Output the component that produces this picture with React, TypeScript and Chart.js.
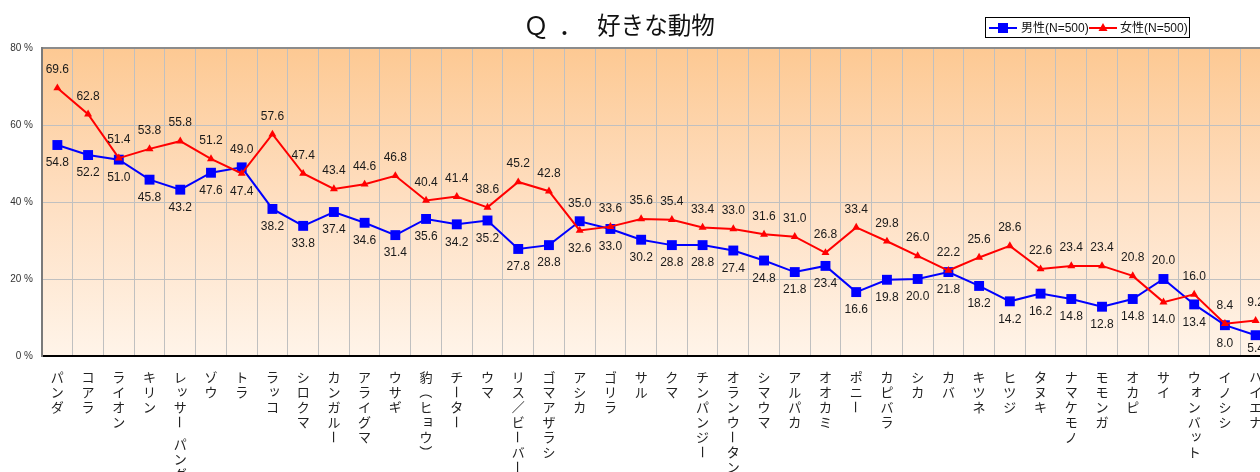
import React, { useEffect, useRef } from 'react';
import { Chart, registerables } from 'chart.js';

Chart.register(...registerables);

const categories = [
  'パンダ', 'コアラ', 'ライオン', 'キリン', 'レッサー パンダ', 'ゾウ', 'トラ', 'ラッコ', 'シロクマ', 'カンガルー',
  'アライグマ', 'ウサギ', '豹（ヒョウ）', 'チーター', 'ウマ', 'リス／ビーバー', 'ゴマアザラシ', 'アシカ', 'ゴリラ', 'サル',
  'クマ', 'チンパンジー', 'オランウータン', 'シマウマ', 'アルパカ', 'オオカミ', 'ポニー', 'カピバラ', 'シカ', 'カバ',
  'キツネ', 'ヒツジ', 'タヌキ', 'ナマケモノ', 'モモンガ', 'オカピ', 'サイ', 'ウォンバット', 'イノシシ', 'ハイエナ',
];

const maleValues = [
  54.8, 52.2, 51.0, 45.8, 43.2, 47.6, 49.0, 38.2, 33.8, 37.4,
  34.6, 31.4, 35.6, 34.2, 35.2, 27.8, 28.8, 35.0, 33.0, 30.2,
  28.8, 28.8, 27.4, 24.8, 21.8, 23.4, 16.6, 19.8, 20.0, 21.8,
  18.2, 14.2, 16.2, 14.8, 12.8, 14.8, 20.0, 13.4, 8.0, 5.4,
];

const femaleValues = [
  69.6, 62.8, 51.4, 53.8, 55.8, 51.2, 47.4, 57.6, 47.4, 43.4,
  44.6, 46.8, 40.4, 41.4, 38.6, 45.2, 42.8, 32.6, 33.6, 35.6,
  35.4, 33.4, 33.0, 31.6, 31.0, 26.8, 33.4, 29.8, 26.0, 22.2,
  25.6, 28.6, 22.6, 23.4, 23.4, 20.8, 14.0, 16.0, 8.4, 9.2,
];

const seriesNames = ['男性(N=500)', '女性(N=500)'];
const titleParts = ['Ｑ', '．', '好きな動物'];
const yTickValues = [0, 20, 40, 60, 80];

const NUM_FONT = '"Liberation Sans", Arial, "Noto Sans CJK JP", sans-serif';
const JP_FONT = '"Noto Sans CJK JP", "Liberation Sans", sans-serif';

const rotateChars = new Set(['ー', '（', '）', '－', '〜']);
const smallKana = new Set(['ッ', 'ョ', 'ォ', 'ャ', 'ュ', 'ァ', 'ィ', 'ゥ', 'ェ']);

const backgroundPlugin = {
  id: 'bgGradient',
  beforeDraw(chart: any) {
    const { ctx, chartArea } = chart;
    ctx.save();
    ctx.fillStyle = '#ffffff';
    ctx.fillRect(0, 0, chart.width, chart.height);
    const g = ctx.createLinearGradient(0, chartArea.top, 0, chartArea.bottom);
    g.addColorStop(0, '#FDC993');
    g.addColorStop(0.5, '#FEDFC2');
    g.addColorStop(1, '#FFF4E9');
    ctx.fillStyle = g;
    ctx.fillRect(chartArea.left, chartArea.top, chartArea.right - chartArea.left, chartArea.bottom - chartArea.top);
    ctx.restore();
  },
};

const valueLabelPlugin = {
  id: 'valueLabels',
  afterDatasetsDraw(chart: any) {
    const { ctx, chartArea } = chart;
    ctx.save();
    ctx.font = '12px ' + NUM_FONT;
    ctx.fillStyle = '#1a1a1a';
    ctx.textAlign = 'center';
    ctx.textBaseline = 'middle';
    const all = [maleValues, femaleValues];
    [0, 1].forEach((di) => {
      const meta = chart.getDatasetMeta(di);
      const vals = all[di];
      const other = all[1 - di];
      meta.data.forEach((pt: any, i: number) => {
        const v = vals[i];
        const o = other[i];
        const above = v > o || (v === o && di === 1);
        let y = above ? pt.y - 18 : pt.y + 18;
        if (y > chartArea.bottom - 7) y = chartArea.bottom - 7;
        ctx.fillText(v.toFixed(1), pt.x, y);
      });
    });
    ctx.restore();
  },
};

const decorPlugin = {
  id: 'decor',
  afterDraw(chart: any) {
    const { ctx } = chart;
    const xs = chart.scales.x;
    ctx.save();
    // vertical category labels
    ctx.font = '13px ' + JP_FONT;
    ctx.fillStyle = '#222';
    ctx.textAlign = 'center';
    ctx.textBaseline = 'middle';
    categories.forEach((c, i) => {
      const cx = xs.getPixelForValue(i);
      let y = 377;
      for (const ch of Array.from(c)) {
        if (ch === ' ') { y += 7; continue; }
        if (rotateChars.has(ch)) {
          ctx.save();
          ctx.translate(cx, y);
          ctx.rotate(Math.PI / 2);
          ctx.fillText(ch, 0, 0);
          ctx.restore();
        } else if (smallKana.has(ch)) {
          ctx.fillText(ch, cx + 2, y - 2);
        } else {
          ctx.fillText(ch, cx, y);
        }
        y += 15;
      }
    });

    // title
    ctx.fillStyle = '#111';
    ctx.textBaseline = 'middle';
    ctx.textAlign = 'center';
    ctx.font = '25px ' + JP_FONT;
    ctx.fillText(titleParts[0], 536, 25);
    ctx.fillText(titleParts[1], 571, 25);
    ctx.textAlign = 'left';
    ctx.font = '23.6px ' + JP_FONT;
    ctx.fillText(titleParts[2], 597, 25);

    // legend
    ctx.fillStyle = '#ffffff';
    ctx.fillRect(985.5, 17.5, 204, 20);
    ctx.strokeStyle = '#000';
    ctx.lineWidth = 1;
    ctx.strokeRect(985.5, 17.5, 204, 20);
    const items = [
      { x: 989, color: '#0000FF', marker: 'rect', text: seriesNames[0], tx: 1021 },
      { x: 1089, color: '#FF0000', marker: 'tri', text: seriesNames[1], tx: 1120 },
    ];
    items.forEach((it) => {
      ctx.strokeStyle = it.color;
      ctx.lineWidth = 2;
      ctx.beginPath();
      ctx.moveTo(it.x, 28);
      ctx.lineTo(it.x + 28, 28);
      ctx.stroke();
      ctx.fillStyle = it.color;
      const mx = it.x + 14;
      if (it.marker === 'rect') {
        ctx.fillRect(mx - 5, 23, 10, 10);
      } else {
        ctx.beginPath();
        ctx.moveTo(mx, 23);
        ctx.lineTo(mx + 4.5, 31);
        ctx.lineTo(mx - 4.5, 31);
        ctx.closePath();
        ctx.fill();
      }
      ctx.fillStyle = '#111';
      ctx.font = '12px ' + NUM_FONT;
      ctx.textAlign = 'left';
      ctx.textBaseline = 'middle';
      ctx.fillText(it.text, it.tx, 28.5);
    });
    ctx.restore();
  },
};

export default function App() {
  const canvasRef = useRef<HTMLCanvasElement | null>(null);

  useEffect(() => {
    if (!canvasRef.current) return;
    const chart = new Chart(canvasRef.current, {
      type: 'line',
      data: {
        labels: categories,
        datasets: [
          {
            label: seriesNames[0],
            data: maleValues,
            borderColor: '#0000FF',
            backgroundColor: '#0000FF',
            borderWidth: 2,
            pointStyle: 'rect',
            pointRadius: 7,
            pointBorderWidth: 0,
            order: 1,
          },
          {
            label: seriesNames[1],
            data: femaleValues,
            borderColor: '#FF0000',
            backgroundColor: '#FF0000',
            borderWidth: 2,
            pointStyle: 'triangle',
            pointRadius: 4.6,
            pointBorderWidth: 0,
            order: 0,
          },
        ],
      },
      options: {
        responsive: false,
        animation: false,
        devicePixelRatio: 1,
        layout: { padding: { top: 48, bottom: 116, left: 0, right: 0 } },
        plugins: {
          legend: { display: false },
          title: { display: false },
          tooltip: { enabled: false },
        },
        scales: {
          x: {
            offset: true,
            grid: {
              offset: true,
              color: '#c0c0c0',
              lineWidth: 1,
              drawTicks: false,
            },
            border: { color: '#000000', width: 2 },
            ticks: { display: false },
            afterFit: (s: any) => { s.height = 0; },
          },
          y: {
            min: 0,
            max: 80,
            afterBuildTicks: (s: any) => { s.ticks = yTickValues.map((v) => ({ value: v })); },
            grid: {
              color: (c: any) => (c.tick && c.tick.value === 80 ? '#8c8c8c' : c.tick && c.tick.value === 0 ? 'rgba(0,0,0,0)' : '#c0c0c0'),
              lineWidth: (c: any) => (c.tick && c.tick.value === 80 ? 2 : 1),
              drawTicks: false,
            },
            border: { color: '#7a7a7a', width: 2 },
            ticks: {
              padding: 9,
              color: '#333',
              font: { size: 10, family: NUM_FONT },
              callback: (v: any) => v + ' %',
            },
            afterFit: (s: any) => { s.width = 42; },
          },
        },
      },
      plugins: [backgroundPlugin, valueLabelPlugin, decorPlugin],
    } as any);
    return () => chart.destroy();
  }, []);

  return (
    <div style={{ position: 'fixed', left: 0, top: 0, width: 1260, height: 472, overflow: 'hidden', background: '#fff' }}>
      <canvas ref={canvasRef} width={1278} height={472} style={{ display: 'block', width: 1278, height: 472 }} />
    </div>
  );
}
